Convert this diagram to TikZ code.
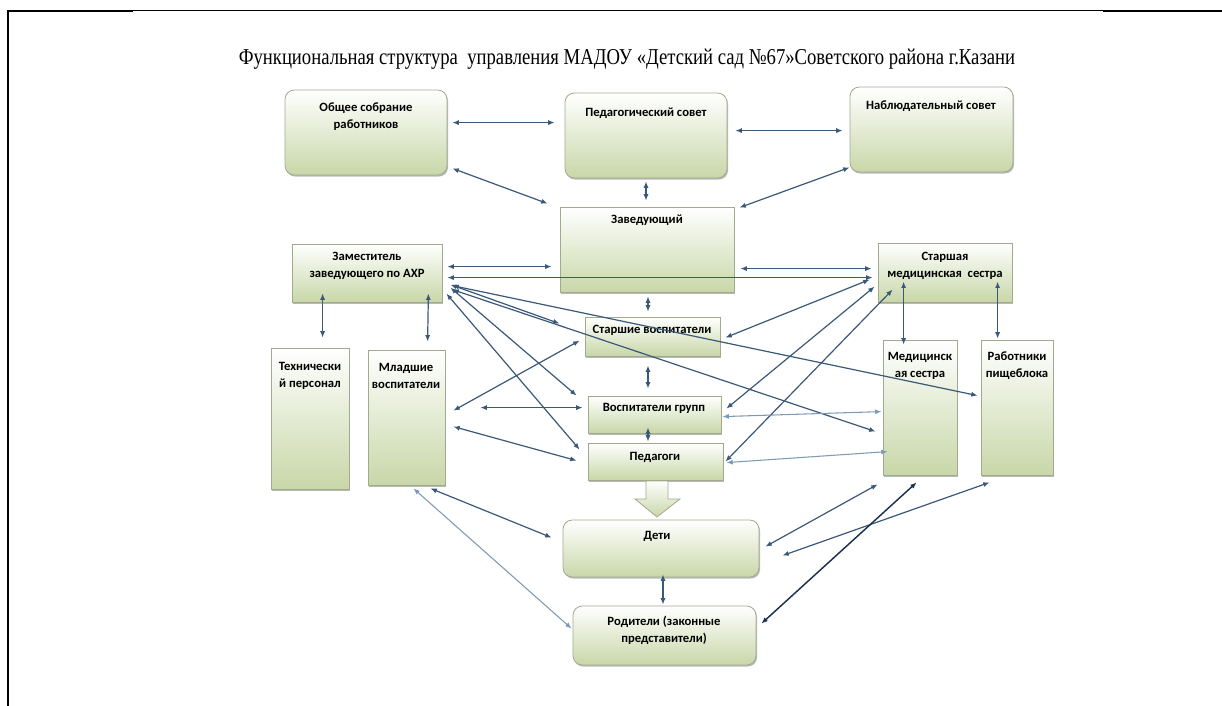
\documentclass[tikz,border=0pt]{standalone}
\usepackage{fontspec}
\setmainfont{Liberation Serif}
\newfontfamily\boxfont{Carlito}
\usetikzlibrary{arrows.meta,shadows,fit,calc}
\definecolor{arrc}{HTML}{3A5878}
\definecolor{arrl}{HTML}{7F9AB5}
\definecolor{arrd}{HTML}{1C3150}
\definecolor{gbot}{HTML}{C8D7A8}
\definecolor{gbord}{HTML}{A2AA8E}
\begin{document}
\begin{tikzpicture}[x=0.75pt,y=-0.75pt,
  box/.style={draw=gbord, line width=0.6pt, top color=white, bottom color=gbot, inner sep=0pt,
    drop shadow={shadow xshift=0.8pt, shadow yshift=-1.2pt, fill=black!50, opacity=0.55}},
  rbox/.style={box, rounded corners=7pt},
  txt/.style={font=\boxfont\bfseries\fontsize{9.5}{12.5}\selectfont, align=center, inner sep=0pt, anchor=north},
  arr/.style={draw=arrc, line width=0.9pt, {Latex[length=4.8pt,width=3.8pt]}-{Latex[length=4.8pt,width=3.8pt]}},
  arrlight/.style={arr, draw=arrl, line width=0.8pt},
  arrdark/.style={arr, draw=arrd, line width=1.1pt},
  frame/.style={draw=black, line width=1.5pt},
  framethin/.style={draw=black, line width=0.75pt}
]
\useasboundingbox (0,0) rectangle (1222,706);
% frame
\draw[frame] (8,706) -- (8,11) -- (133,11);
\draw[framethin] (133,11) -- (1103,11);
\draw[frame] (1103,11) -- (1222,11);
% title
\node[font=\fontsize{17}{19}\selectfont, inner sep=0pt] (title) at (627,59)
  {\scalebox{0.824}[1]{Функциональная структура\ \ управления МАДОУ «Детский сад №67»Советского района г.Казани}};
% boxes
\node[rbox, fit={(285,90) (447,175)}] (obs) {};
\node[rbox, fit={(565,93) (727,178)}] (ped) {};
\node[rbox, fit={(850,87) (1013,172)}] (nab) {};
\node[box, fit={(560,207) (734,292)}] (zav) {};
\node[box, fit={(292,244) (442,302)}] (zam) {};
\node[box, fit={(878,243) (1012,302)}] (stmed) {};
\node[box, fit={(585,317) (720,356)}] (stv) {};
\node[box, fit={(271,348) (349,489)}] (teh) {};
\node[box, fit={(368,350) (445,485)}] (ml) {};
\node[box, fit={(883,340) (957,475)}] (med) {};
\node[box, fit={(981,340) (1053,475)}] (rab) {};
\node[box, fit={(588,396) (721,433)}] (vg) {};
\node[box, fit={(588,443) (723,480)}] (pedg) {};
\node[rbox, fit={(563,520) (759,577)}] (deti) {};
\node[rbox, fit={(573,606) (756,665)}] (rod) {};
% texts
\node[txt] (obs-t) at (366,103) {Общее собрание\\работников};
\node[txt] (ped-t) at (646,108) {Педагогический совет};
\node[txt] (nab-t) at (931,101) {Наблюдательный совет};
\node[txt] (zav-t) at (647,215) {Заведующий};
\node[txt] (zam-t) at (367,252) {Заместитель\\заведующего по АХР};
\node[txt] (stmed-t) at (945,252) {Старшая\\медицинская\ \ сестра};
\node[txt] (stv-t) at (652,325) {Старшие воспитатели};
\node[txt] (teh-t) at (310,362) {Технически\\й персонал};
\node[txt] (ml-t) at (406,363) {Младшие\\воспитатели};
\node[txt] (med-t) at (920,352) {Медицинск\\ая сестра};
\node[txt] (rab-t) at (1017,352) {Работники\\пищеблока};
\node[txt] (vg-t) at (654,403) {Воспитатели групп};
\node[txt] (pedg-t) at (655,452) {Педагоги};
\node[txt] (deti-t) at (657,531) {Дети};
\node[txt] (rod-t) at (664,616) {Родители (законные\\представители)};
% block arrow
\path[draw=gbord, line width=0.6pt, top color=white, bottom color=gbot]
  (646,481) -- (668,481) -- (668,499) -- (680,499) -- (657,517) -- (635,499) -- (646,499) -- cycle;
% connectors
\draw[arr] ($(obs.north east)+(5,33)$) -- ($(ped.north west)+(-10,30)$);
\draw[arr] ($(obs.south east)+(5,-7)$) -- ($(zav.north west)+(-12,-3)$);
\draw[arr] ($(ped.south)+(0,3)$) -- ($(zav.north)+(-1,-6)$);
\draw[arr] ($(ped.north east)+(8,38)$) -- ($(nab.north west)+(-7,44)$);
\draw[arr] ($(zav.north east)+(5,1)$) -- ($(nab.south west)+(0,-5)$);
\draw[arr] ($(zam.north east)+(5,23)$) -- ($(zav.north west)+(-8,60)$);
\draw[arr] ($(zav.north east)+(6,62)$) -- ($(stmed.north west)+(-6,26)$);
\draw[arr] ($(zam.north east)+(5,34)$) -- ($(stmed.north west)+(-5,35)$);
\draw[arr] ($(zam.south west)+(31,-9)$) -- ($(teh.north west)+(52,-10)$);
\draw[arr] ($(zam.south east)+(-14,-9)$) -- ($(ml.north west)+(60,-8)$);
\draw[arr] ($(zav.south)+(1,4)$) -- ($(stv.north)+(-4.5,-5)$);
\draw[arr] ($(stv.south)+(-4.5,9)$) -- ($(vg.north)+(-6.5,-7)$);
\draw[arr] ($(vg.south)+(-6.5,-6)$) -- ($(pedg.north)+(-7.5,-1)$);
\draw[arr] ($(zam.north east)+(8,41)$) -- ($(stv.north west)+(-25,7)$);
\draw[arr] ($(zam.north east)+(8,44)$) -- ($(vg.north west)+(-11,0)$);
\draw[arr] ($(zam.north east)+(4,50)$) -- ($(pedg.north west)+(-8,7)$);
\draw[arr] ($(zam.north east)+(10,42)$) -- ($(rab.north west)+(-3,56)$);
\draw[arr] ($(zam.north east)+(10,46)$) -- ($(med.north west)+(-7,92)$);
\draw[arr] ($(ml.north east)+(8,61)$) -- ($(stv.north west)+(-5,24)$);
\draw[arr] ($(ml.north east)+(35,58)$) -- ($(vg.north west)+(-5,12)$);
\draw[arr] ($(ml.north east)+(8,77)$) -- ($(pedg.north west)+(-11,18)$);
\draw[arr] ($(stv.north east)+(5,21)$) -- ($(stmed.north west)+(-8,37)$);
\draw[arr] ($(vg.north east)+(5,13)$) -- ($(stmed.north west)+(-3,44)$);
\draw[arr] ($(pedg.north east)+(2,19)$) -- ($(stmed.north west)+(15,47)$);
\draw[arr] ($(stmed.north west)+(26,39)$) -- ($(med.north west)+(21,5)$);
\draw[arr] ($(stmed.north west)+(120,39)$) -- ($(rab.north west)+(17,-1)$);
\draw[arrlight] ($(vg.north east)+(1,21)$) -- ($(med.north west)+(-1,72)$);
\draw[arrlight] ($(pedg.north east)+(3,20)$) -- ($(med.north west)+(5,112)$);
\draw[arr] ($(ml.south east)+(-15,3)$) -- ($(deti.north west)+(-11,18)$);
\draw[arrlight] ($(ml.south east)+(-32,3)$) -- ($(rod.north west)+(-1,23)$);
\draw[arr] ($(deti.south)+(2,-3)$) -- ($(rod.north)+(-1.5,-1)$);
\draw[arr] ($(deti.north east)+(6,27)$) -- ($(med.south west)+(-5,9)$);
\draw[arr] ($(deti.north east)+(23,36)$) -- ($(rab.south west)+(9,7)$);
\draw[arrdark] ($(rod.north east)+(5,18)$) -- ($(med.south west)+(34,7)$);
\end{tikzpicture}
\end{document}
